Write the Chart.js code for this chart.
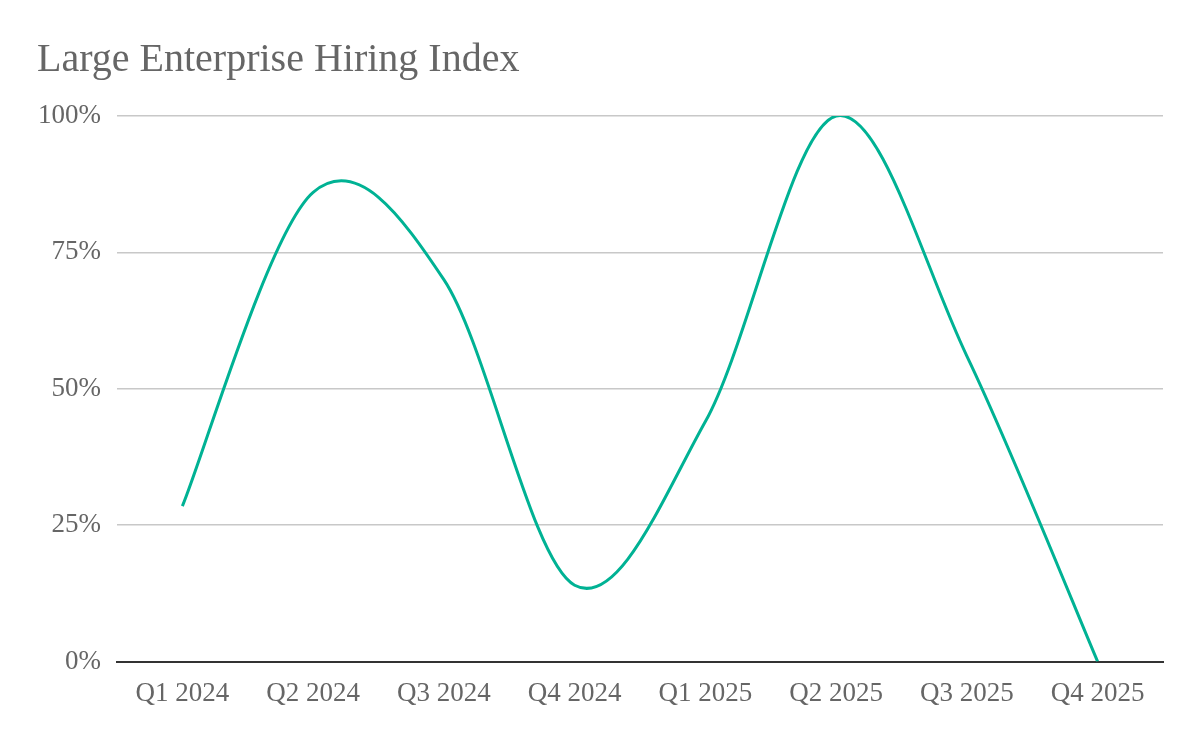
<!DOCTYPE html>
<html>
<head>
<meta charset="utf-8">
<script src="https://cdn.jsdelivr.net/npm/chart.js@4.4.1/dist/chart.umd.min.js"></script>
<style>
html,body{margin:0;padding:0;background:#fff;}
#wrap{width:1200px;height:742px;}
</style>
</head>
<body>
<div id="wrap"><canvas id="c" width="1200" height="742"></canvas></div>
<script>
const categories = ["Q1 2024","Q2 2024","Q3 2024","Q4 2024","Q1 2025","Q2 2025","Q3 2025","Q4 2025"];
const hiringIndex = [28.5, 86, 70, 14, 44, 100, 56, 0];
const yTicks = [0, 25, 50, 75, 100];
const titleText = "Large Enterprise Hiring Index";

const FONT = "'Liberation Serif', 'Times New Roman', serif";

// Uniform cardinal (Catmull-Rom) smoothing: control points derived from the
// library-computed point positions of neighbouring points.
const cardinalSmoothing = {
  id: 'cardinalSmoothing',
  beforeDatasetDraw(chart, args) {
    const meta = args.meta;
    const line = meta.dataset;
    if (!line || !line.updateControlPoints) return;
    line.updateControlPoints(chart.chartArea, meta.iScale.axis);
    const pts = meta.data;
    const n = pts.length;
    for (let i = 0; i < n; i++) {
      const p = pts[i];
      const prev = pts[Math.max(i - 1, 0)];
      const next = pts[Math.min(i + 1, n - 1)];
      const dx = (next.x - prev.x) / 6;
      const dy = (next.y - prev.y) / 6;
      p.cp1x = p.x - dx; p.cp1y = p.y - dy;
      p.cp2x = p.x + dx; p.cp2y = p.y + dy;
    }
    line._path = undefined;
  }
};

new Chart(document.getElementById('c'), {
  type: 'line',
  data: {
    labels: categories,
    datasets: [{
      label: 'Hiring Index',
      data: hiringIndex,
      borderColor: '#00b294',
      borderWidth: 3,
      pointRadius: 0,
      tension: 0.4,
      fill: false
    }]
  },
  plugins: [cardinalSmoothing],
  options: {
    responsive: false,
    animation: false,
    layout: { padding: { left: 37, right: 37, top: 36, bottom: 16 } },
    plugins: {
      legend: { display: false },
      tooltip: { enabled: false },
      title: {
        display: true,
        text: titleText,
        align: 'start',
        color: '#666666',
        font: { family: FONT, size: 40, weight: 'normal' },
        padding: { top: 0, bottom: 32 }
      }
    },
    scales: {
      x: {
        offset: true,
        grid: { display: false, drawTicks: false },
        border: { display: true, color: '#333333', width: 2 },
        ticks: { color: '#666666', font: { family: FONT, size: 27 }, padding: 16, maxRotation: 0 }
      },
      y: {
        min: 0, max: 100,
        afterBuildTicks: (axis) => { axis.ticks = yTicks.map(v => ({ value: v })); },
        afterFit: (axis) => { axis.width = 80; },
        grid: { color: '#c8c8c8', lineWidth: 1.5, drawTicks: false },
        border: { display: false },
        ticks: { color: '#666666', font: { family: FONT, size: 27 }, padding: 16, callback: (v) => v + '%' }
      }
    }
  }
});
</script>
</body>
</html>
